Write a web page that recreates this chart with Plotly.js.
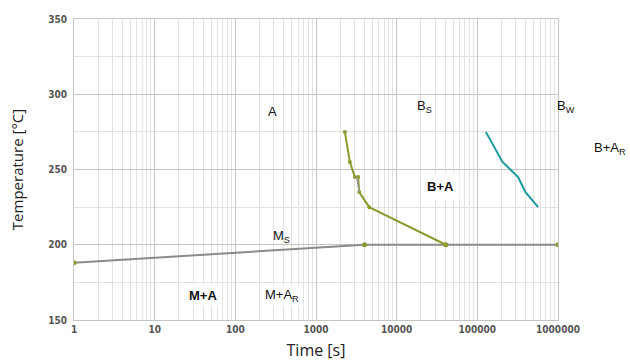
<!DOCTYPE html>
<html>
<head>
<meta charset="utf-8">
<script src="https://cdn.plot.ly/plotly-3.0.1.min.js"></script>
<style>html,body{margin:0;padding:0;background:#fff;}#chart{width:630px;height:363px;}</style>
</head>
<body>
<div id="chart"></div>
<script>
// Ms line (martensite start)
const msTime = [1, 4000, 40700, 1000000];
const msTemp = [188, 200, 200, 200];
// Bs curve (bainite start)
const bsTime = [2280, 2630, 3035, 3335, 3433, 4570, 40700];
const bsTemp = [275, 255, 245, 245, 235, 225, 200];
// gray overlap segment on Bs curve
const bsGrayTime = [3200, 3433];
const bsGrayTemp = [245, 235];
// Bw curve
const bwTime = [127400, 205000, 320000, 395000, 567000];
const bwTemp = [275, 255, 245, 235, 225];
// tick labels
const xTickVals = [1, 10, 100, 1000, 10000, 100000, 1000000];
const xTickText = ["1", "10", "100", "1000", "10000", "100000", "1000000"];
const yTickVals = [150, 200, 250, 300, 350];
const yTickText = ["150", "200", "250", "300", "350"];

const olive = "#8e9a2e";
const teal = "#1a9a9c";
const grayLine = "#8a8a8a";

const traces = [
  {x: msTime, y: msTemp, mode: "lines", line: {color: grayLine, width: 2}, hoverinfo: "skip"},
  {x: bsTime, y: bsTemp, mode: "lines+markers", line: {color: olive, width: 2}, marker: {color: olive, size: 4}},
  {x: bsGrayTime, y: bsGrayTemp, mode: "lines", line: {color: "#999", width: 1.5}},
  {x: msTime, y: msTemp, mode: "markers", marker: {color: olive, size: 5}},
  {x: bwTime, y: bwTemp, mode: "lines", line: {color: teal, width: 2}}
];

const tfont = {family: "Liberation Sans, Arial, sans-serif", size: 13, color: "#111"};
const bfont = {family: "Liberation Sans, Arial, sans-serif", size: 13, color: "#111", weight: "bold"};
// annotation positions in paper fractions
const annotations = [
  {x: 0.411, y: 0.692, text: "A", font: tfont},
  {x: 0.725, y: 0.708, text: "B<sub>S</sub>", font: tfont},
  {x: 1.016, y: 0.708, text: "B<sub>W</sub>", font: tfont},
  {x: 1.107, y: 0.571, text: "B+A<sub>R</sub>", font: tfont},
  {x: 0.758, y: 0.443, text: "B+A", font: bfont, bgcolor: "#fff", borderpad: 5},
  {x: 0.428, y: 0.276, text: "M<sub>S</sub>", font: tfont},
  {x: 0.266, y: 0.080, text: "M+A", font: bfont, bgcolor: "#fff", borderpad: 3},
  {x: 0.430, y: 0.080, text: "M+A<sub>R</sub>", font: tfont, bgcolor: "#fff", borderpad: 1}
].map(a => Object.assign({xref: "paper", yref: "paper", showarrow: false, xanchor: "center", yanchor: "middle"}, a));

const tick = {family: "DejaVu Sans Condensed, DejaVu Sans, sans-serif", size: 10, color: "#555", weight: "bold"};

const layout = {
  width: 630, height: 363,
  margin: {l: 74, r: 72, t: 19, b: 43},
  paper_bgcolor: "#fff", plot_bgcolor: "#fff",
  showlegend: false,
  xaxis: {
    type: "log", range: [0, 6],
    tickvals: xTickVals, ticktext: xTickText, tickfont: tick,
    showgrid: true, gridcolor: "#c4c4c4", gridwidth: 1,
    minor: {dtick: "D1", showgrid: true, gridcolor: "#e2e2e2", gridwidth: 1},
    showline: true, mirror: true, linecolor: "#c4c4c4", linewidth: 1,
    ticks: "", zeroline: false,
    title: {text: "Time [s]", font: {family: "Open Sans, sans-serif", size: 16, color: "#222"}, standoff: 10}
  },
  yaxis: {
    range: [150, 350],
    tickvals: yTickVals, ticktext: yTickText, tickfont: tick,
    showgrid: true, gridcolor: "#c4c4c4", gridwidth: 1,
    minor: {dtick: 25, showgrid: true, gridcolor: "#e2e2e2", gridwidth: 1},
    showline: true, mirror: true, linecolor: "#c4c4c4", linewidth: 1,
    ticks: "", zeroline: false, ticklabelstandoff: 4,
    title: {text: "Temperature [°C]", font: {family: "Open Sans, sans-serif", size: 15, color: "#222"}, standoff: 20}
  },
  annotations: annotations
};

Plotly.newPlot("chart", traces, layout, {staticPlot: true, displayModeBar: false});
</script>
</body>
</html>
